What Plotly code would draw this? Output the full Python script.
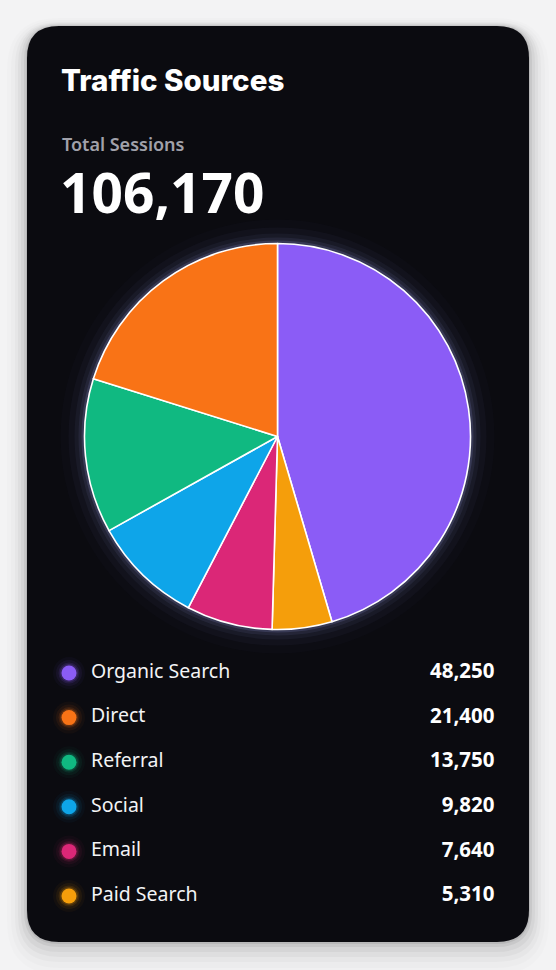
import plotly.graph_objects as go

# data
sources = ["Organic Search", "Direct", "Referral", "Social", "Email", "Paid Search"]
sessions = [48250, 21400, 13750, 9820, 7640, 5310]
colors = ["#8b5cf6", "#f97316", "#10b981", "#0ea5e9", "#db2777", "#f59e0b"]
title = "Traffic Sources"
total_label = "Total Sessions"

W, H = 556, 970
total = sum(sessions)

# pie runs clockwise: biggest first, then the rest from smallest up
order = [0] + list(range(len(sources) - 1, 0, -1))

fig = go.Figure()

# pie centre / radius in pixels (styling only)
cx, cy, r = 277.5, 436.5, 193

fig.add_trace(go.Pie(
    labels=[sources[i] for i in order],
    values=[sessions[i] for i in order],
    marker=dict(colors=[colors[i] for i in order], line=dict(color="#ffffff", width=1.6)),
    sort=False,
    direction="clockwise",
    rotation=0,
    textinfo="none",
    hoverinfo="label+value+percent",
    showlegend=False,
    domain=dict(x=[(cx - r) / W, (cx + r) / W], y=[1 - (cy + r) / H, 1 - (cy - r) / H]),
))

rows = list(range(len(sources)))
# glow behind legend dots
for size, op in [(32, 0.04), (26, 0.07), (21, 0.12), (18, 0.2)]:
    fig.add_trace(go.Scatter(
        x=[69] * len(rows), y=rows, mode="markers",
        marker=dict(size=size, color=colors, opacity=op, line=dict(width=0)),
        xaxis="x2", yaxis="y2", hoverinfo="skip", showlegend=False,
    ))
fig.add_trace(go.Scatter(
    x=[69] * len(rows), y=rows, mode="markers",
    marker=dict(size=15, color=colors, line=dict(width=0)),
    xaxis="x2", yaxis="y2", hoverinfo="skip", showlegend=False,
))
fig.add_trace(go.Scatter(
    x=[91] * len(rows), y=rows, mode="text", text=sources,
    textposition="middle right",
    textfont=dict(family="Noto Sans", size=19.5, color="#f3f4f6"),
    xaxis="x2", yaxis="y2", hoverinfo="skip", showlegend=False,
))
fig.add_trace(go.Scatter(
    x=[494.5] * len(rows), y=rows, mode="text", text=[f"{v:,}" for v in sessions],
    textposition="middle left",
    textfont=dict(family="Noto Sans", size=20.5, color="#ffffff", weight=700),
    xaxis="x2", yaxis="y2", hoverinfo="skip", showlegend=False,
))

def rounded_rect(x0, y0, x1, y1, rad):
    return (f"M{x0 + rad},{y0} L{x1 - rad},{y0} Q{x1},{y0} {x1},{y0 + rad} "
            f"L{x1},{y1 - rad} Q{x1},{y1} {x1 - rad},{y1} L{x0 + rad},{y1} "
            f"Q{x0},{y1} {x0},{y1 - rad} L{x0},{y0 + rad} Q{x0},{y0} {x0 + rad},{y0} Z")

shapes = []
# card shadow, soft and mostly downwards
for grow, dy, op in [(20, 12, 0.012), (16, 10, 0.016), (12, 8, 0.022), (9, 6, 0.03),
                     (6, 4, 0.04), (3, 2, 0.06), (1, 1, 0.08)]:
    shapes.append(dict(type="path", xref="x", yref="y", layer="below",
                       path=rounded_rect(27 - grow, 26 - grow + dy, 529 + grow, 942 + grow + dy, 32 + grow),
                       fillcolor=f"rgba(0,0,0,{op})", line=dict(width=0)))
# card
shapes.append(dict(type="path", xref="x", yref="y", layer="below",
                   path=rounded_rect(27, 26, 529, 942, 32),
                   fillcolor="#0b0b10", line=dict(width=0)))
# halo round the pie
for grow, op in [(24, 0.02), (16, 0.035), (10, 0.05), (6, 0.08), (3, 0.15)]:
    shapes.append(dict(type="circle", xref="x", yref="y", layer="below",
                       x0=cx - r - grow, x1=cx + r + grow, y0=cy - r - grow, y1=cy + r + grow,
                       fillcolor=f"rgba(165,175,255,{op})", line=dict(width=0)))

annotations = [
    dict(text=title, x=59, y=80, xref="x", yref="y", xanchor="left", yanchor="middle",
         showarrow=False, font=dict(family="Inter", size=29.5, color="#ffffff", weight=800)),
    dict(text=total_label, x=60, y=144, xref="x", yref="y", xanchor="left", yanchor="middle",
         showarrow=False, font=dict(family="Noto Sans", size=18, color="#a1a1aa", weight=600)),
    dict(text=f"<b>{total:,}</b>", x=58, y=191, xref="x", yref="y", xanchor="left", yanchor="middle",
         showarrow=False, font=dict(family="Noto Sans", size=55, color="#ffffff")),
]

row_h = 44.6
top = 673 - row_h / 2
bot = 896 + row_h / 2

fig.update_layout(
    width=W, height=H,
    margin=dict(l=0, r=0, t=0, b=0),
    paper_bgcolor="#f3f3f4",
    plot_bgcolor="rgba(0,0,0,0)",
    xaxis=dict(range=[0, W], domain=[0, 1], visible=False, fixedrange=True),
    yaxis=dict(range=[H, 0], domain=[0, 1], visible=False, fixedrange=True),
    xaxis2=dict(range=[0, W], domain=[0, 1], visible=False, anchor="y2", fixedrange=True),
    yaxis2=dict(range=[len(rows) - 0.5, -0.5], domain=[1 - bot / H, 1 - top / H],
                visible=False, anchor="x2", fixedrange=True),
    shapes=shapes,
    annotations=annotations,
    showlegend=False,
)

# the page's default body margin would push the figure 8px off
fig.write_html("out.html",
               config={"displayModeBar": False},
               post_script="document.body.style.margin='0';document.body.style.background='#f3f3f4';")
